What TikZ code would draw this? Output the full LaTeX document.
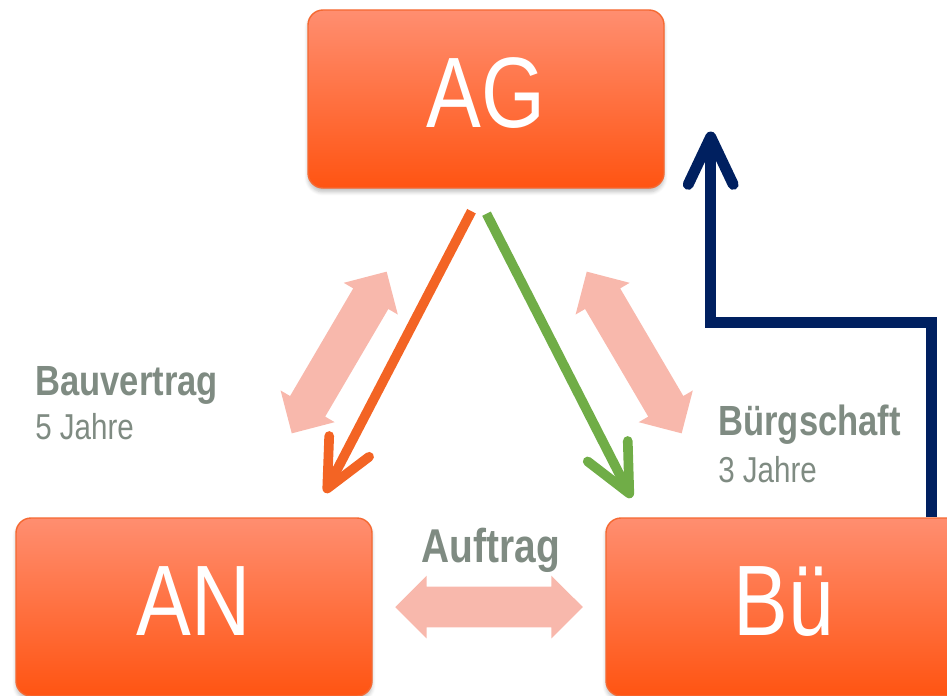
\documentclass[tikz,border=0pt]{standalone}
\usepackage{fontspec}
\setmainfont[FakeStretch=0.82]{Liberation Sans}
\usepackage{xcolor}
\usepackage{tikz}
\usetikzlibrary{arrows.meta,positioning,calc,shapes.arrows,shadows.blur}

\definecolor{boxtop}{RGB}{255,142,112}
\definecolor{boxbot}{RGB}{255,84,18}
\definecolor{boxline}{RGB}{245,105,50}
\definecolor{pinkarr}{RGB}{248,184,172}
\definecolor{lblgray}{RGB}{127,139,130}
\definecolor{orgarr}{RGB}{243,100,36}
\definecolor{grnarr}{RGB}{112,173,71}
\definecolor{navyarr}{RGB}{0,32,96}

\tikzset{
  party/.style={rectangle, rounded corners=0.3cm, draw=boxline, line width=0.8pt,
    top color=boxtop, bottom color=boxbot, minimum width=7.12cm, minimum height=3.56cm,
    text=white, font=\fontsize{57}{60}\selectfont, inner sep=0pt, text depth=0.24cm,
    blur shadow={shadow xshift=0pt, shadow yshift=-0.08cm, shadow opacity=25, shadow blur steps=6}},
  duty/.style={double arrow, fill=pinkarr, minimum height=3.75cm, minimum width=1.24cm,
    double arrow head extend=0.22cm, inner sep=0.4cm},
  claim/.style={line width=5.5pt, -{Straight Barb[length=0.95cm,width=0.9cm,round]}},
  lbl/.style={text=lblgray, font=\bfseries\fontsize{24}{28}\selectfont, anchor=base west, inner sep=0pt},
  sublbl/.style={text=lblgray, font=\fontsize{20.5}{23}\selectfont, anchor=base west, inner sep=0pt}
}

\begin{document}
\begin{tikzpicture}
  \useasboundingbox (0,0) rectangle (18.94,13.9);

  \node[party] (AG) at (9.72,11.92) {AG};
  \node[party] (AN) at (3.88,1.76) {AN};
  \node[party] (Bue) at (15.68,1.76) {Bü};

  % pink double arrows
  \node[duty, rotate=59.6] (dAN) at (6.784,6.85) {};
  \node[duty, rotate=-59.6] (dBue) at (12.684,6.85) {};
  \node[duty] (dAuf) at ($(AN.east)!0.5!(Bue.west)$) {};

  % free ends of the claims
  \coordinate (agL) at ($(AG.south)+(-0.29,-0.45)$);
  \coordinate (agR) at ($(AG.south)+(0.01,-0.5)$);
  \coordinate (anT) at ($(AN.north)+(2.62,0.49)$);
  \coordinate (bueT) at ($(Bue.north)+(-3.05,0.39)$);
  \coordinate (bueR) at ($(Bue.north east)+(-0.62,0)$);
  \coordinate (agE) at ($(AG.east)+(0.92,-0.65)$);

  \draw[claim, orgarr] (agL) -- (anT);
  \draw[claim, grnarr] (agR) -- (bueT);
  \draw[claim, navyarr, line width=6.2pt] (bueR) -- ++(0,3.9) -| (agE);

  \node[lbl] (bv) at (0.7,6.0) {Bauvertrag};
  \node[sublbl] (bvj) at (0.7,5.12) {5 Jahre};
  \node[lbl] (bs) at (14.36,5.2) {Bürgschaft};
  \node[sublbl] (bsj) at (14.36,4.26) {3 Jahre};
  \node[lbl, anchor=base, font=\bfseries\fontsize{27}{30}\selectfont] (auf) at (9.82,2.66) {Auftrag};
\end{tikzpicture}
\end{document}
